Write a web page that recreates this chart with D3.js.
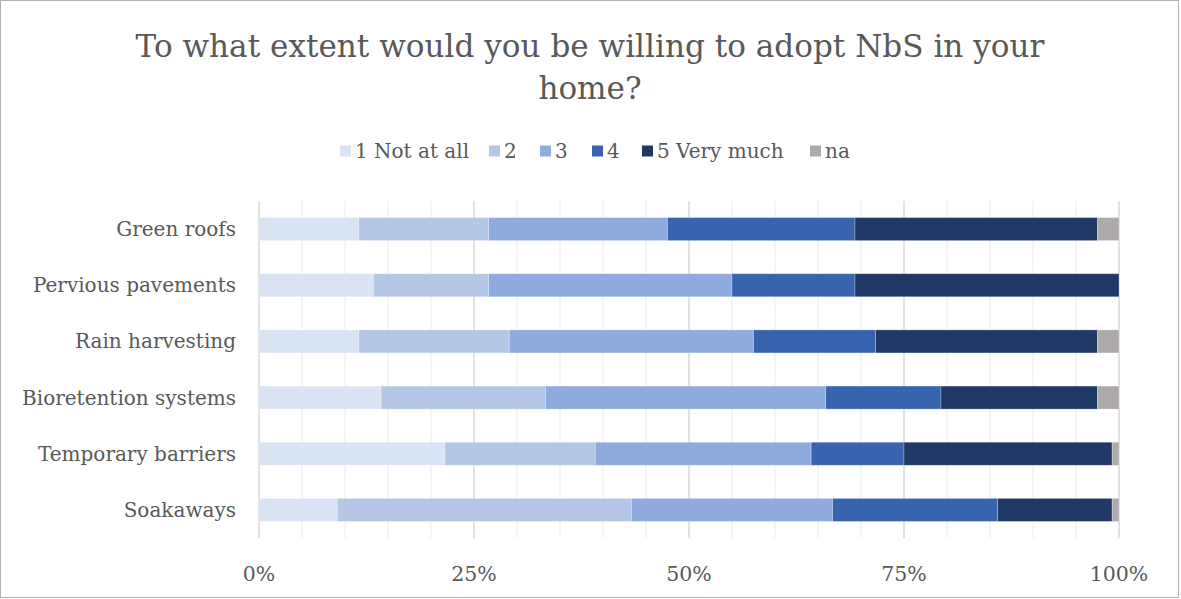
<!DOCTYPE html>
<html>
<head>
<meta charset="utf-8">
<script src="https://cdn.jsdelivr.net/npm/d3@7"></script>
<style>
  body { margin: 0; background: #fff; }
  svg text { font-family: "DejaVu Serif", "Liberation Serif", serif; fill: #595959; }
</style>
</head>
<body>
<svg id="chart" width="1181" height="599"></svg>
<script>
// categories, top to bottom
const categories = ["Green roofs", "Pervious pavements", "Rain harvesting",
                    "Bioretention systems", "Temporary barriers", "Soakaways"];
const seriesNames = ["1 Not at all", "2", "3", "4", "5 Very much", "na"];
const seriesColors = ["#dae3f3", "#b4c7e7", "#8faadc", "#3763af", "#203864", "#aeaaaa"];

// share of answers (%) per category, one array per answer
const notAtAll = [11.6, 13.3, 11.6, 14.2, 21.6,  9.1];
const two      = [15.1, 13.4, 17.5, 19.1, 17.5, 34.2];
const three    = [20.8, 28.3, 28.4, 32.6, 25.1, 23.4];
const four     = [21.8, 14.3, 14.2, 13.4, 10.8, 19.2];
const veryMuch = [28.2, 30.7, 25.8, 18.2, 24.2, 13.3];
const na       = [ 2.5,  0.0,  2.5,  2.5,  0.8,  0.8];

const tickValues = [0, 0.25, 0.5, 0.75, 1];
const tickLabels = ["0%", "25%", "50%", "75%", "100%"];

const width = 1181, height = 599;
const margin = {left: 259, right: 62, top: 201, bottom: 61};

const svg = d3.select("#chart");

// outer frame
svg.append("rect")
  .attr("x", 0.5).attr("y", 0.5)
  .attr("width", width - 3).attr("height", height - 2)
  .attr("fill", "#fff").attr("stroke", "#b0b0b0").attr("stroke-width", 1);

// title
const title = svg.append("text")
  .attr("text-anchor", "middle")
  .attr("font-size", 30);
const line1 = title.append("tspan").attr("x", 590).attr("y", 57)
  .text("To what extent would you be willing to adopt NbS in your");
title.append("tspan").attr("x", 590).attr("y", 99)
  .text("home?");
// fit first title line to the width it has in the original (~909px)
const w1 = line1.node().getComputedTextLength();
title.attr("font-size", 30 * 909 / w1);

// table of rows for stacking
const cols = [notAtAll, two, three, four, veryMuch, na];
const rows = categories.map((c, i) => {
  let r = {category: c};
  seriesNames.forEach((s, j) => r[s] = cols[j][i]);
  return r;
});

const stack = d3.stack().keys(seriesNames)
  .offset(d3.stackOffsetExpand);
const stacked = stack(rows);

let x = d3.scaleLinear()
  .domain([0, 1])
  .range([margin.left, width - margin.right]);

let y = d3.scaleBand()
  .domain(categories)
  .range([margin.top, height - margin.bottom])
  .paddingInner(0.59).paddingOuter(0.295);

// gridlines: minor every 5%, major every 25%
const minor = d3.range(0, 1.0001, 0.05);
svg.append("g").selectAll("line").data(minor).join("line")
  .attr("x1", d => x(d)).attr("x2", d => x(d))
  .attr("y1", margin.top).attr("y2", height - margin.bottom)
  .attr("stroke", d => (Math.round(d * 100) % 25 === 0) ? "#d9d9d9" : "#efefef")
  .attr("stroke-width", d => (Math.round(d * 100) % 25 === 0) ? 1.5 : 1.2);

// bars
svg.append("g").selectAll("g").data(stacked).join("g")
  .attr("fill", (d, i) => seriesColors[i])
  .selectAll("rect").data(d => d).join("rect")
  .attr("x", d => x(d[0]))
  .attr("y", d => y(d.data.category))
  .attr("width", d => Math.max(0, x(d[1]) - x(d[0])))
  .attr("height", y.bandwidth())
  .attr("stroke", "#ffffff").attr("stroke-opacity", 0.35).attr("stroke-width", 0.75);

// category labels
svg.append("g").selectAll("text").data(categories).join("text")
  .attr("x", 236)
  .attr("y", d => y(d) + y.bandwidth() / 2)
  .attr("dy", "0.35em")
  .attr("text-anchor", "end")
  .attr("font-size", 20)
  .text(d => d);

// x axis labels
svg.append("g").selectAll("text").data(tickValues).join("text")
  .attr("x", d => x(d))
  .attr("y", 581)
  .attr("text-anchor", "middle")
  .attr("font-size", 20.5)
  .text((d, i) => tickLabels[i]);

// legend
const legendX = [340, 489, 540, 592, 642, 810];
const legend = svg.append("g").selectAll("g").data(seriesNames).join("g")
  .attr("transform", (d, i) => `translate(${legendX[i]},151)`);
legend.append("rect")
  .attr("x", 0).attr("y", -5.5).attr("width", 11).attr("height", 11)
  .attr("fill", (d, i) => seriesColors[i]);
legend.append("text")
  .attr("x", 15).attr("dy", "0.35em")
  .attr("font-size", 20)
  .text(d => d);
</script>
</body>
</html>
